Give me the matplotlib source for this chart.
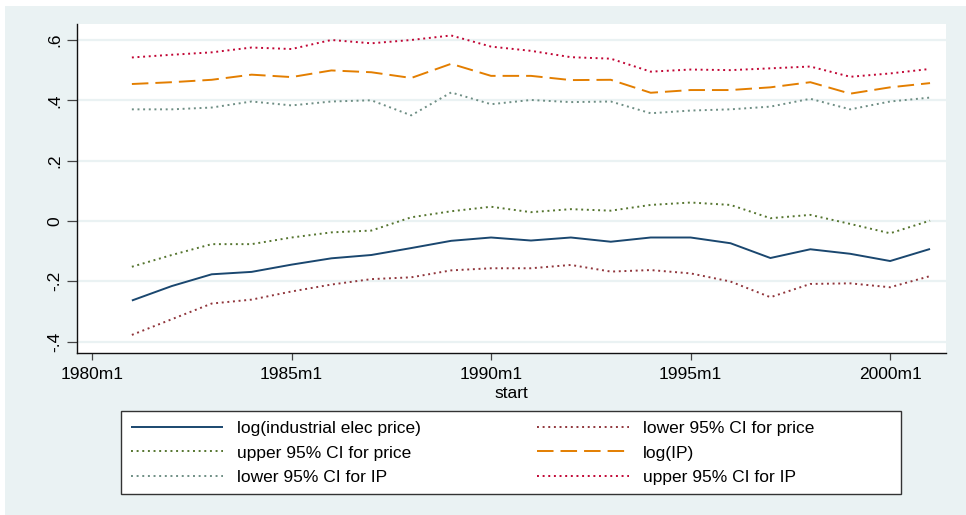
import matplotlib
matplotlib.use("Agg")
import matplotlib.pyplot as plt
from matplotlib.patches import Rectangle

# ---- data ----
start_years = [1981, 1982, 1983, 1984, 1985, 1986, 1987, 1988, 1989, 1990, 1991,
               1992, 1993, 1994, 1995, 1996, 1997, 1998, 1999, 2000, 2001]
log_price = [-0.264, -0.216, -0.177, -0.169, -0.145, -0.124, -0.113, -0.090, -0.066, -0.055, -0.065,
             -0.055, -0.069, -0.055, -0.055, -0.074, -0.123, -0.094, -0.109, -0.133, -0.093]
lower_price = [-0.378, -0.326, -0.274, -0.261, -0.234, -0.211, -0.193, -0.187, -0.164, -0.157, -0.157,
               -0.146, -0.168, -0.163, -0.174, -0.201, -0.253, -0.209, -0.207, -0.220, -0.183]
upper_price = [-0.152, -0.113, -0.077, -0.077, -0.055, -0.038, -0.032, 0.012, 0.032, 0.047, 0.029,
               0.039, 0.034, 0.053, 0.061, 0.053, 0.009, 0.020, -0.010, -0.041, 0.001]
log_ip = [0.454, 0.460, 0.468, 0.485, 0.477, 0.499, 0.493, 0.474, 0.521, 0.481, 0.481,
          0.467, 0.468, 0.425, 0.434, 0.434, 0.443, 0.460, 0.422, 0.443, 0.457]
lower_ip = [0.370, 0.370, 0.376, 0.396, 0.383, 0.396, 0.400, 0.350, 0.426, 0.387, 0.401,
            0.394, 0.396, 0.357, 0.366, 0.370, 0.379, 0.405, 0.370, 0.396, 0.409]
upper_ip = [0.542, 0.551, 0.559, 0.575, 0.570, 0.600, 0.589, 0.600, 0.615, 0.578, 0.564,
            0.543, 0.538, 0.495, 0.502, 0.500, 0.506, 0.512, 0.478, 0.489, 0.504]
xtick_labels = ["1980m1", "1985m1", "1990m1", "1995m1", "2000m1"]
ytick_values = [-0.4, -0.2, 0.0, 0.2, 0.4, 0.6]
ytick_labels = ["-.4", "-.2", "0", ".2", ".4", ".6"]
series_labels = ["log(industrial elec price)", "lower 95% CI for price",
                 "upper 95% CI for price", "log(IP)",
                 "lower 95% CI for IP", "upper 95% CI for IP"]


def to_month(label_or_year):
    # Stata %tm: months since 1960m1
    if isinstance(label_or_year, str):
        y, m = label_or_year.split("m")
        return (int(y) - 1960) * 12 + int(m) - 1
    return (label_or_year - 1960) * 12


x = [to_month(y) for y in start_years]
xticks = [to_month(s) for s in xtick_labels]

plt.rcParams['font.family'] = ['Liberation Sans', 'DejaVu Sans']

W, H = 966, 515
fig = plt.figure(figsize=(W / 100, H / 100), dpi=100, facecolor="white")

bg = "#eaf2f3"
fig.patches.append(Rectangle((5 / W, 0), (W - 5) / W, (H - 6) / H,
                             transform=fig.transFigure, facecolor=bg,
                             edgecolor="none", zorder=-10))

ax = fig.add_axes([77 / W, 1 - 353 / H, (946 - 77) / W, (353 - 24) / H])
ax.set_zorder(1)
ax.set_facecolor("white")

navy = "#1a476f"
maroon = "#90353b"
fgreen = "#55752f"
dkorange = "#e37e00"
teal = "#6e8e84"
cranberry = "#c10534"

lw = 1.4
dot = (0, (1.0, 1.9))
styles = [
    (log_price, navy, "-"),
    (lower_price, maroon, dot),
    (upper_price, fgreen, dot),
    (log_ip, dkorange, (0, (8.5, 3.6))),
    (lower_ip, teal, dot),
    (upper_ip, cranberry, dot),
]
handles = []
for (vals, col, ls), lab in zip(styles, series_labels):
    ln, = ax.plot(x, vals, color=col, lw=lw, linestyle=ls, label=lab,
                  solid_capstyle="butt", dash_capstyle="butt", zorder=3)
    handles.append(ln)

ax.set_xlim(235.5, 496.8)
ax.set_ylim(-0.438, 0.653)

ax.set_yticks(ytick_values)
ax.set_yticklabels(ytick_labels, rotation=90, va="center")
ax.set_xticks(xticks)
ax.set_xticklabels(xtick_labels)
ax.yaxis.grid(True, color=bg, lw=1.6, zorder=1)
ax.set_axisbelow(True)

for s in ["top", "right"]:
    ax.spines[s].set_visible(False)
for s in ["left", "bottom"]:
    ax.spines[s].set_color("#111111")
    ax.spines[s].set_linewidth(1.0)

ax.tick_params(axis="y", length=7.2, width=0.9, color="#444444", pad=3.5,
               labelsize=12.5, labelcolor="black")
ax.tick_params(axis="x", length=5.2, width=0.9, color="#444444", pad=5,
               labelsize=12.5, labelcolor="black")
ax.set_xlabel("start", fontsize=12.5, labelpad=2.5)

# legend frame
fig.patches.append(Rectangle((121 / W, 1 - 494 / H), (901 - 121) / W, (494 - 411) / H,
                             transform=fig.transFigure, facecolor="white",
                             edgecolor="#333333", lw=1.0, zorder=2))

# row-major order like Stata: reorder to matplotlib's column-major filling
order = [0, 2, 4, 1, 3, 5]
fs = 12.5
fpx = fs * 100 / 72
leg = fig.legend(handles=[handles[i] for i in order],
                 labels=[series_labels[i] for i in order], ncol=2,
                 loc="center left", bbox_to_anchor=(131 / W, 1 - 453 / H),
                 frameon=False, fontsize=fs, borderpad=0, borderaxespad=0,
                 handlelength=92 / fpx, handletextpad=14 / fpx,
                 columnspacing=116 / fpx, labelspacing=0.54)
leg.set_zorder(5)

fig.savefig("out.png", dpi=100, facecolor="white")
